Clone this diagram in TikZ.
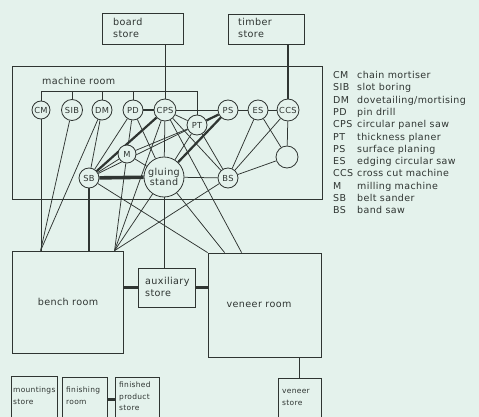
\documentclass[tikz,border=0pt]{standalone}
\usepackage{fontspec}
\setmainfont{DejaVu Sans}[LetterSpace=4.0]
\usetikzlibrary{calc}
\definecolor{bg}{HTML}{E4F2EC}
\definecolor{ink}{HTML}{2F3532}
\pgfdeclarelayer{back}
\pgfdeclarelayer{edges}
\pgfsetlayers{back,edges,main}
\begin{document}
\begin{tikzpicture}[x=1pt,y=-1pt,
  every node/.style={text=ink},
  mach/.style={circle,draw=ink,fill=bg,line width=0.8pt,inner sep=0pt,minimum size=20pt,font=\fontsize{8.3}{9}\selectfont},
  box/.style={draw=ink,fill=bg,line width=0.8pt,inner sep=0pt},
  lbl/.style={align=left,inner sep=0pt,font=\fontsize{9.6}{12}\selectfont},
  slbl/.style={align=left,inner sep=0pt,font=\fontsize{7.5}{12}\selectfont},
  leg/.style={inner sep=0pt,font=\fontsize{9.5}{11}\selectfont},
  ln/.style={draw=ink,line width=0.75pt},
  thk/.style={draw=ink,line width=2.2pt},
  mthk/.style={draw=ink,line width=1.6pt},
  vthk/.style={draw=ink,line width=3.6pt}]
\useasboundingbox (0,0) rectangle (479,417);
\begin{pgfonlayer}{back}
\fill[bg] (0,0) rectangle (479,417);
\node[box,minimum width=310pt,minimum height=133pt] (mroom) at (167,132.5) {};
\end{pgfonlayer}
\node[lbl,anchor=west] (mroomt) at (42,81) {machine room};
% stores at top
\node[box,minimum width=81pt,minimum height=31pt] (board) at (142.5,28.5) {};
\node[lbl,anchor=west] (boardt) at (113,27.5) {board\\store};
\node[box,minimum width=76pt,minimum height=30pt] (timber) at (266,29) {};
\node[lbl,anchor=west] (timbert) at (238,28) {timber\\store};
% rooms
\node[box,minimum width=111pt,minimum height=102pt] (bench) at (67.5,302) {};
\node[lbl] (bencht) at (68,302) {bench room};
\node[box,minimum width=113pt,minimum height=104pt] (veneer) at (264.5,305) {};
\node[lbl] (veneert) at (259,305) {veneer room};
\node[box,minimum width=57pt,minimum height=39pt] (aux) at (166.5,287.5) {};
\node[lbl,anchor=west] (auxt) at (145,287) {auxiliary\\store};
% bottom stores
\node[box,minimum width=46pt,minimum height=46pt] (mount) at (34,399) {};
\node[slbl,anchor=west] (mountt) at (13,396) {mountings\\store};
\node[box,minimum width=45pt,minimum height=45pt] (finish) at (84.5,399.5) {};
\node[slbl,anchor=west] (finisht) at (66,396) {finishing\\room};
\node[box,minimum width=44pt,minimum height=45pt] (product) at (137,399.5) {};
\node[slbl,anchor=west,font=\fontsize{7.5}{11.5}\selectfont] (productt) at (119,396.5) {finished\\product\\store};
\node[box,minimum width=43pt,minimum height=44pt] (vstore) at (299.5,400) {};
\node[slbl,anchor=west] (vstoret) at (282,397) {veneer\\store};
% machines
\node[mach,minimum size=18pt] (CM) at (41,110) {CM};
\node[mach,minimum size=21pt] (SIB) at (72,110) {SIB};
\node[mach] (DM) at (102,110) {DM};
\node[mach] (PD) at (133,110) {PD};
\node[mach,minimum size=22pt] (CPS) at (165,110) {CPS};
\node[mach] (PT) at (197,125) {PT};
\node[mach] (PS) at (228,110) {PS};
\node[mach] (ES) at (258,110) {ES};
\node[mach,minimum size=22pt] (CCS) at (288,110) {CCS};
\node[mach,minimum size=18pt] (M) at (127,154) {M};
\node[mach] (SB) at (89,178) {SB};
\node[mach,minimum size=40pt,font=\fontsize{9.6}{10.5}\selectfont,align=center] (glue) at (164,177) {gluing\\stand};
\node[mach] (BS) at (228,178) {BS};
\node[mach,minimum size=22pt] (EC) at (287,157) {};
% legend
\foreach \a/\d [count=\i] in {CM/{chain mortiser},SIB/{slot boring},DM/{dovetailing/mortising},PD/{pin drill},CPS/{circular panel saw},PT/{thickness planer},PS/{surface planing},ES/{edging circular saw},CCS/{cross cut machine},M/{milling machine},SB/{belt sander},BS/{band saw}}{
  \node[leg,anchor=base west] (la\i) at (333,{78.5+12.3*(\i-1)}) {\a};
  \node[leg,anchor=base west] (ld\i) at (357,{78.5+12.3*(\i-1)}) {\d};
}
% connection points
\coordinate (busL) at (41,91);
\coordinate (busR) at (197,91);
\coordinate (bA) at ($(bench.north west)+(29,0)$);
\coordinate (bB) at ($(bench.north west)+(103,0)$);
\coordinate (vA) at (veneer.north west);
\coordinate (vB) at ($(veneer.north west)+(17,0)$);
\coordinate (vC) at ($(veneer.north west)+(34,0)$);
\begin{pgfonlayer}{edges}
\draw[ln] (busL) -- (busR);
\draw[ln] (busL) -- (CM);
\draw[ln] (SIB |- busL) -- (SIB);
\draw[ln] (DM |- busL) -- (DM);
\draw[ln] (PD |- busL) -- (PD);
\draw[ln] (busR) -- (PT);
\draw[ln] (CPS |- board.south) -- (CPS);
\draw[thk] (CCS |- timber.south) -- (CCS);
\draw[thk] (PD) -- (CPS);
\draw[ln] (CPS) -- (PS);
\draw[ln] (PS) -- (ES);
\draw[ln] (ES) -- (CCS);
\draw[thk] (PT) -- (PS);
\draw[ln] (CPS) -- (PT);
\draw[ln] (CCS) -- (EC);
\draw[ln] (EC) -- (BS);
\draw[ln] (ES) -- (EC);
\draw[ln] (ES) -- (BS);
\draw[ln] (CCS) -- (BS);
\draw[ln] (PT) -- (BS);
\draw[ln] (CPS) -- (BS);
\draw[ln] (glue) -- (BS);
\draw[ln] (SB) -- (DM);
\draw[ln] (SB) -- (PD);
\draw[thk] (SB) -- (CPS);
\draw[ln] (SB) -- (M);
\draw[ln] (SB) -- (PT);
\draw[vthk] (SB) -- (glue);
\draw[ln] (PD) -- (M);
\draw[ln] (M) -- (glue);
\draw[ln] (M) -- (PT);
\draw[ln] (glue) -- (CPS);
\draw[ln] (glue) -- (PD);
\draw[ln] (glue) -- (PT);
\draw[thk] (glue) -- (PS);
\draw[ln] (CM) -- (CM |- bench.north);
\draw[ln] (SIB) -- (bA);
\draw[ln] (DM) -- (bA);
\draw[mthk] (SB) -- (SB |- bench.north);
\draw[ln] (SB) -- (vA);
\draw[ln] (glue) -- (vB);
\draw[ln] (CPS) -- (vC);
\draw[ln] (M) -- (bB);
\draw[ln] (CPS) -- (bB);
\draw[ln] (glue) -- (bB);
\draw[ln] (BS) -- (bB);
\draw[ln] (glue) -- (glue |- aux.north);
\draw[thk] (aux.west) -- (aux.west -| bench.east);
\draw[thk] (aux.east) -- (aux.east -| veneer.west);
\draw[ln] ($(bench.north east)+(0,70)$) -- ($(bench.north east)+(0,70)$ -| veneer.west);
\draw[thk] ($(bench.south west)+(20,0)$) -- ($(bench.south west)+(20,0)$ |- mount.north);
\draw[ln] ($(bench.south west)+(73,0)$) -- ($(bench.south west)+(73,0)$ |- finish.north);
\draw[ln] ($(bench.south west)+(109,0)$) -- ($(bench.south west)+(109,0)$ |- product.north);
\draw[thk] (finish.east) -- (product.west);
\draw[ln] (vstore.north) -- (vstore.north |- veneer.south);
\end{pgfonlayer}
\end{tikzpicture}
\end{document}
